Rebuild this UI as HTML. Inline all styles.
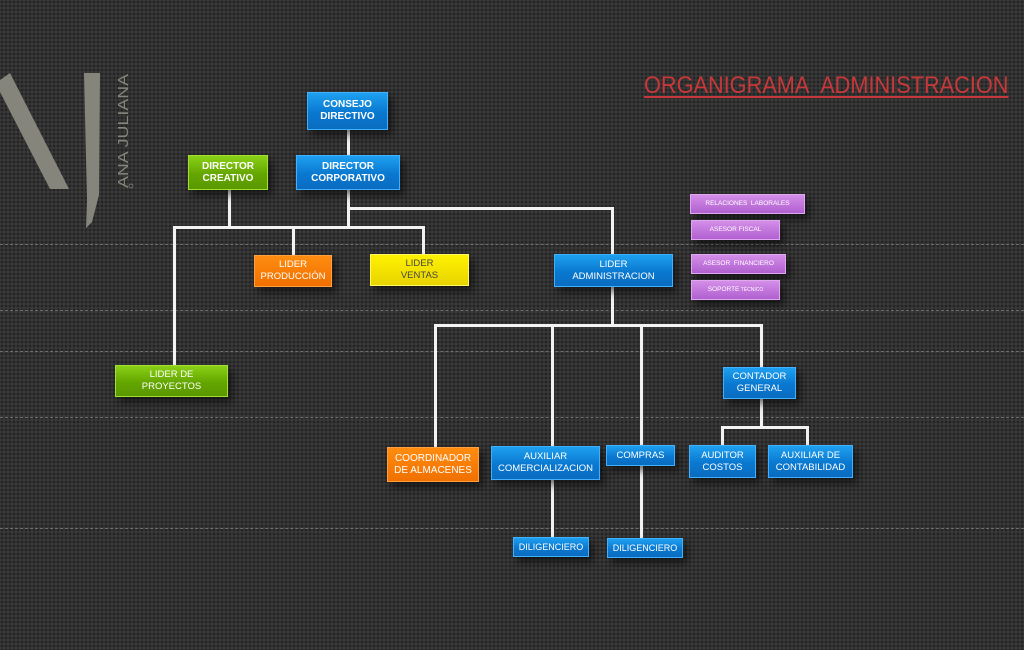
<!DOCTYPE html>
<html><head><meta charset="utf-8"><style>
html,body{margin:0;padding:0}
body{width:1024px;height:650px;overflow:hidden;position:relative;font-family:"Liberation Sans",sans-serif;
background-color:#323232;
background-image:radial-gradient(circle,#232323 0.9px,transparent 1.3px),radial-gradient(circle,#3c3c3c 0.8px,transparent 1.2px);
background-size:4px 4px,4px 4px;background-position:0 0,2px 2px;}
.dash{position:absolute;left:0;width:1024px;height:0;border-top:1px dashed #6e6e6e}
.b{position:absolute;display:flex;align-items:center;justify-content:center;text-align:center;color:#fff;font-size:9.5px;line-height:12px;box-sizing:border-box;box-shadow:4px 5px 8px rgba(0,0,0,.55)}
.bl{background:linear-gradient(#1ea0f0,#0a78d0 55%,#0a6cc0);border:1px solid #40b0ff}
.gr{background:linear-gradient(#8ad016,#64a600 55%,#5a9800);border:1px solid #a0e030}
.or{background:linear-gradient(#ff8c10,#f07000);border:1px solid #ffa040}
.ye{background:linear-gradient(#fff200,#e8d400);border:1px solid #fff860;color:#444}
.pu{background:linear-gradient(#d48ee8,#b060d0);border:1px solid #e0a8f0;font-size:6.5px}
.bold{font-weight:bold;font-size:10px}
.l{position:absolute;background:#f2f2f2}
</style></head><body>
<div class="dash" style="top:244px"></div>
<div class="dash" style="top:310px"></div>
<div class="dash" style="top:351px"></div>
<div class="dash" style="top:417px"></div>
<div class="dash" style="top:528px"></div>

<svg style="position:absolute;left:0;top:0" width="150" height="240">
<polygon points="0,80 10,73 69,189 50,189 0,92" fill="#85857c"/>
<polygon points="84,73 100,73 99,195 92,222 86,228 87,200" fill="#85857c"/>
<text transform="translate(128,188) rotate(-90)" font-family="Liberation Sans,sans-serif" font-size="15" fill="#85857c" textLength="114" lengthAdjust="spacingAndGlyphs">ANA JULIANA</text>
<circle cx="131" cy="186" r="2" fill="none" stroke="#85857c" stroke-width="0.7"/>
</svg>

<div style="position:absolute;left:644px;top:72px;color:#c8383a;font-size:24px;white-space:nowrap;transform:scaleX(0.905);transform-origin:0 0;text-decoration:underline;text-decoration-thickness:2px;text-underline-offset:3px">ORGANIGRAMA&nbsp; ADMINISTRACION</div>

<!-- lines -->
<div class="l" style="left:347px;top:130px;width:3px;height:25px"></div>
<div class="l" style="left:228px;top:190px;width:3px;height:38px"></div>
<div class="l" style="left:347px;top:190px;width:3px;height:38px"></div>
<div class="l" style="left:173px;top:226px;width:251px;height:3px"></div>
<div class="l" style="left:173px;top:226px;width:3px;height:139px"></div>
<div class="l" style="left:292px;top:226px;width:3px;height:29px"></div>
<div class="l" style="left:422px;top:226px;width:3px;height:28px"></div>
<div class="l" style="left:347px;top:207px;width:266px;height:3px"></div>
<div class="l" style="left:611px;top:207px;width:3px;height:47px"></div>
<div class="l" style="left:611px;top:287px;width:3px;height:38px"></div>
<div class="l" style="left:434px;top:324px;width:329px;height:3px"></div>
<div class="l" style="left:434px;top:324px;width:3px;height:123px"></div>
<div class="l" style="left:551px;top:324px;width:3px;height:213px"></div>
<div class="l" style="left:640px;top:324px;width:3px;height:214px"></div>
<div class="l" style="left:760px;top:324px;width:3px;height:43px"></div>
<div class="l" style="left:760px;top:399px;width:3px;height:28px"></div>
<div class="l" style="left:721px;top:426px;width:88px;height:3px"></div>
<div class="l" style="left:721px;top:426px;width:3px;height:19px"></div>
<div class="l" style="left:806px;top:426px;width:3px;height:19px"></div>

<!-- boxes -->
<div class="b bl bold" style="left:307px;top:92px;width:81px;height:38px">CONSEJO<br>DIRECTIVO</div>
<div class="b gr bold" style="left:188px;top:155px;width:80px;height:35px">DIRECTOR<br>CREATIVO</div>
<div class="b bl bold" style="left:296px;top:155px;width:104px;height:35px">DIRECTOR<br>CORPORATIVO</div>
<div class="b or" style="left:254px;top:255px;width:78px;height:32px">LIDER<br>PRODUCCIÓN</div>
<div class="b ye" style="left:370px;top:254px;width:99px;height:32px">LIDER<br>VENTAS</div>
<div class="b bl" style="left:554px;top:254px;width:119px;height:33px">LIDER<br>ADMINISTRACION</div>
<div class="b gr" style="left:115px;top:365px;width:113px;height:32px">LIDER DE<br>PROYECTOS</div>
<div class="b or" style="left:387px;top:447px;width:92px;height:35px;font-size:10px">COORDINADOR<br>DE ALMACENES</div>
<div class="b bl" style="left:491px;top:446px;width:109px;height:34px">AUXILIAR<br>COMERCIALIZACION</div>
<div class="b bl" style="left:606px;top:445px;width:69px;height:21px">COMPRAS</div>
<div class="b bl" style="left:723px;top:367px;width:73px;height:32px">CONTADOR<br>GENERAL</div>
<div class="b bl" style="left:689px;top:445px;width:67px;height:33px">AUDITOR<br>COSTOS</div>
<div class="b bl" style="left:768px;top:445px;width:85px;height:33px">AUXILIAR DE<br>CONTABILIDAD</div>
<div class="b bl" style="left:513px;top:537px;width:76px;height:20px;font-size:9px">DILIGENCIERO</div>
<div class="b bl" style="left:607px;top:538px;width:76px;height:20px;font-size:9px">DILIGENCIERO</div>
<div class="b pu" style="left:690px;top:194px;width:115px;height:20px">RELACIONES&nbsp; LABORALES</div>
<div class="b pu" style="left:691px;top:220px;width:89px;height:20px">ASESOR FISCAL</div>
<div class="b pu" style="left:691px;top:254px;width:95px;height:20px">ASESOR&nbsp; FINANCIERO</div>
<div class="b pu" style="left:691px;top:280px;width:89px;height:20px">SOPORTE <span style="font-size:5px">&nbsp;TÉCNICO</span></div>
</body></html>
